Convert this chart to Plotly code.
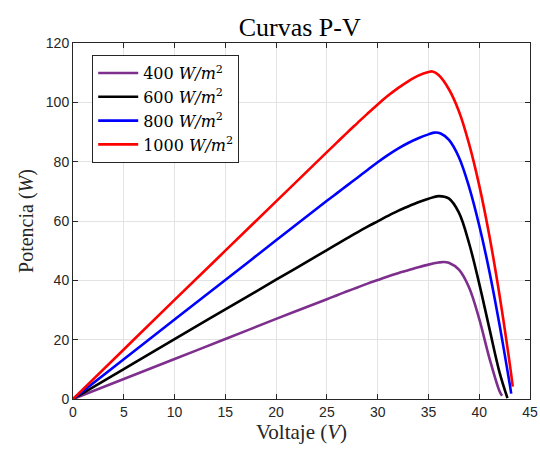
import plotly.graph_objects as go

# Data (Voltage V, Power W)
v_400 = [0, 5, 10, 15, 20, 25, 26, 27, 28, 29, 30, 31, 32, 33, 34, 35, 36, 36.5, 37, 38, 39, 40, 41, 42, 42.25]
p_400 = [0, 6.75, 13.5, 20.2, 27.0, 33.6, 35.0, 36.3, 37.6, 38.9, 40.1, 41.3, 42.4, 43.4, 44.4, 45.3, 46.0, 46.2, 45.9, 43.6, 37.6, 27.0, 13.8, 2.6, 1.1]

v_600 = [0, 5, 10, 15, 20, 25, 26, 27, 28, 29, 30, 31, 32, 33, 34, 35, 36, 37, 38, 39, 40, 41, 42, 42.78]
p_600 = [0, 10.1, 20.2, 30.2, 40.2, 50.2, 52.2, 54.2, 56.2, 58.1, 59.9, 61.7, 63.4, 64.9, 66.3, 67.5, 68.4, 67.6, 62.8, 52.5, 38.9, 23.8, 9.0, 0.3]

v_800 = [0, 5, 10, 15, 20, 25, 26, 27, 28, 29, 30, 31, 32, 33, 34, 35, 35.6, 36.2, 37, 38, 39, 40, 41, 42, 43, 43.15]
p_800 = [0, 13.4, 26.8, 40.1, 53.5, 66.8, 69.4, 72.0, 74.6, 77.2, 79.8, 82.2, 84.4, 86.3, 87.9, 89.2, 89.8, 89.5, 87.4, 81.5, 71.5, 58.5, 43.0, 25.0, 5.1, 1.8]

v_1000 = [0, 5, 10, 15, 20, 25, 26, 27, 28, 29, 30, 31, 32, 33, 34, 35, 35.4, 36, 37, 38, 39, 40, 41, 42, 43, 43.3]
p_1000 = [0, 16.7, 33.4, 50.0, 66.6, 83.2, 86.5, 89.8, 93.0, 96.2, 99.3, 102.2, 104.8, 107.1, 109.0, 110.2, 110.4, 109.2, 104.5, 97.0, 86.0, 72.0, 55.0, 35.0, 12.0, 4.2]

names = ["400 <i>W/m</i><sup>2</sup>", "600 <i>W/m</i><sup>2</sup>",
         "800 <i>W/m</i><sup>2</sup>", "1000 <i>W/m</i><sup>2</sup>"]
colors = ["#7E2F8E", "#000000", "#0000FF", "#FF0000"]
series = [(v_400, p_400), (v_600, p_600), (v_800, p_800), (v_1000, p_1000)]

fig = go.Figure()
for (v, p), n, c in zip(series, names, colors):
    fig.add_trace(go.Scatter(x=v, y=p, mode="lines", name=n,
                             line=dict(color=c, width=2.6, shape="spline", smoothing=1.0)))

serif = "Liberation Serif"
axis_common = dict(showgrid=True, gridcolor="#E3E3E3", gridwidth=1,
                   showline=True, linecolor="#262626", linewidth=1, mirror="ticks",
                   ticks="inside", ticklen=5, tickcolor="#262626",
                   zeroline=False, automargin=False,
                   tickfont=dict(family="Liberation Sans", size=14, color="#262626"))

fig.update_layout(
    width=540, height=451,
    margin=dict(l=73, r=10, t=43, b=52),
    plot_bgcolor="white", paper_bgcolor="white",
    title=dict(text="Curvas P-V", x=0.555, xanchor="center", y=0.94, yanchor="middle",
               font=dict(family=serif, size=26, color="#000000")),
    xaxis=dict(range=[0, 45], dtick=5, **axis_common,
               title=dict(text="Voltaje (<i>V</i>)", standoff=2,
                          font=dict(family=serif, size=21, color="#262626"))),
    yaxis=dict(range=[0, 120], dtick=20, **axis_common,
               title=dict(text="Potencia (<i>W</i>)", standoff=6,
                          font=dict(family=serif, size=20, color="#262626"))),
    legend=dict(x=0.042, y=0.966, xanchor="left", yanchor="top",
                bordercolor="#262626", borderwidth=1, bgcolor="white",
                font=dict(family="DejaVu Serif", size=16, color="#000000"),
                tracegroupgap=0, itemwidth=40),
    showlegend=True,
)

fig.write_html("out.html", config={"displayModeBar": False},
               post_script="document.body.style.margin='0';document.body.style.overflow='hidden';")
